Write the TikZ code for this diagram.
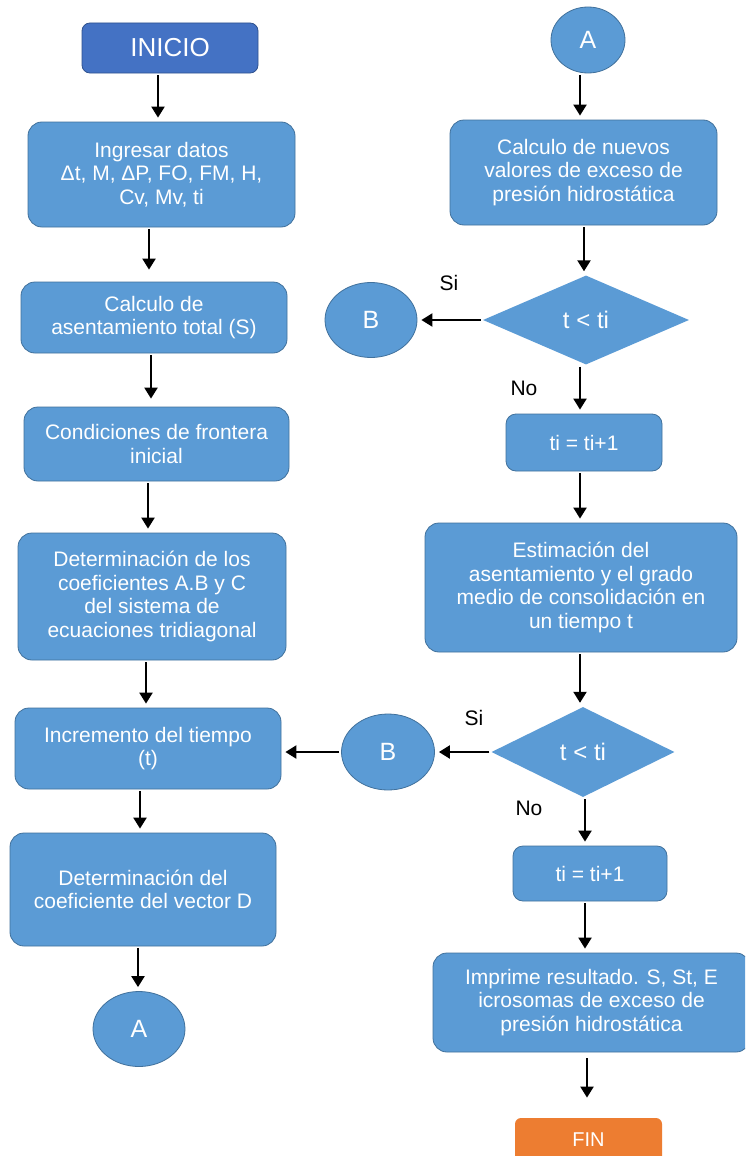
\documentclass[tikz,border=0pt]{standalone}
\usepackage{fontspec}
\setmainfont{Liberation Sans}
\usetikzlibrary{shapes.geometric,arrows.meta}
\definecolor{boxfill}{HTML}{5B9BD5}
\definecolor{boxline}{HTML}{41719C}
\definecolor{startfill}{HTML}{4472C4}
\definecolor{startline}{HTML}{2F528F}
\definecolor{endfill}{HTML}{ED7D31}
\begin{document}
\begin{tikzpicture}[x=1pt,y=-1pt,
  every node/.style={font=\fontsize{21pt}{23.5pt}\selectfont},
  box/.style={draw=boxline, line width=0.8pt, fill=boxfill, text=white, rounded corners=14pt, align=center, inner sep=0pt},
  startbox/.style={box, draw=startline, fill=startfill, rounded corners=8pt, font=\fontsize{26pt}{30pt}\selectfont},
  endbox/.style={box, draw=none, fill=endfill, rounded corners=6pt, font=\fontsize{20pt}{24pt}\selectfont},
  conn/.style={draw=boxline, line width=0.8pt, fill=boxfill, text=white, ellipse, inner sep=0pt, font=\fontsize{25pt}{28pt}\selectfont},
  decision/.style={draw=none, fill=boxfill, text=white, diamond, inner sep=0pt, font=\fontsize{24pt}{28pt}\selectfont},
  lbl/.style={text=black, inner sep=0pt},
  arr/.style={line width=2.2pt, -{Triangle[length=11pt,width=13pt]}, shorten >=4pt, shorten <=2pt}
]
\clip (0,0) rectangle (745,1156);
\fill[white] (0,0) rectangle (745,1156);

% left column
\node[startbox, minimum width=176pt, minimum height=50pt] (inicio) at (170,48) {INICIO};
\node[box, minimum width=267pt, minimum height=105pt] (ingresar) at (161.5,174.5) {Ingresar datos\\ Δt, M, ΔP, FO, FM, H,\\ Cv, Mv, ti};
\node[box, minimum width=266pt, minimum height=71pt] (calc) at (154,317.5) {Calculo de\\ asentamiento total (S)};
\node[box, minimum width=265pt, minimum height=74pt] (cond) at (156.5,444) {Condiciones de frontera\\ inicial};
\node[box, minimum width=268pt, minimum height=127pt] (det) at (152,596.5) {Determinación de los\\ coeficientes A.B y C\\ del sistema de\\ ecuaciones tridiagonal};
\node[box, minimum width=266pt, minimum height=81pt] (incr) at (148,748.5) {Incremento del tiempo\\ (t)};
\node[box, minimum width=266pt, minimum height=113pt] (detD) at (143,889.5) {Determinación del\\ coeficiente del vector D};
\node[conn, minimum width=92pt, minimum height=75pt] (A1) at (139,1029) {A};

% right column
\node[conn, minimum width=74pt, minimum height=66pt] (A2) at (588,40) {A};
\node[box, minimum width=267pt, minimum height=105pt] (calcn) at (583.5,172.5) {Calculo de nuevos\\ valores de exceso de\\ presión hidrostática};
\node[decision, minimum width=206pt, minimum height=89pt, aspect=2.3] (d1) at (586,320) {t < ti};
\node[conn, minimum width=92pt, minimum height=75pt] (B1) at (371,320) {B};
\node[box, rounded corners=10pt, minimum width=156pt, minimum height=57pt] (ti1) at (584,442.5) {ti = ti+1};
\node[box, minimum width=312pt, minimum height=129pt] (estim) at (581,587.5) {Estimación del\\ asentamiento y el grado\\ medio de consolidación en\\ un tiempo t};
\node[decision, minimum width=183pt, minimum height=90pt, aspect=2.03] (d2) at (583,752) {t < ti};
\node[conn, minimum width=93pt, minimum height=76pt] (B2) at (388,752) {B};
\node[box, rounded corners=10pt, minimum width=154pt, minimum height=55pt] (ti2) at (590,873.5) {ti = ti+1};
\node[box, minimum width=317pt, minimum height=99pt] (impr) at (591.5,1002.5) {Imprime resultado. S, St, E\\ icrosomas de exceso de\\ presión hidrostática};
\node[endbox, minimum width=147pt, minimum height=44pt] (fin) at (588.5,1140) {FIN};

% labels
\node[lbl] (si1) at (449,283) {Si};
\node[lbl] (no1) at (524,388) {No};
\node[lbl] (si2) at (474,718) {Si};
\node[lbl] (no2) at (529,808) {No};

% arrow x positions
\coordinate (x1) at (158,0);
\coordinate (x2) at (149,0);
\coordinate (x3) at (151,0);
\coordinate (x4) at (148,0);
\coordinate (x5) at (146,0);
\coordinate (x6) at (140,0);
\coordinate (x7) at (138,0);
\coordinate (x8) at (580,0);
\coordinate (x9) at (584,0);
\coordinate (x10) at (580,0);
\coordinate (x13) at (585,0);
\coordinate (x15) at (587,0);

\draw[arr] (inicio.south -| x1) -- (ingresar.north -| x1);
\draw[arr] (ingresar.south -| x2) -- ([yshift=8pt]calc.north -| x2);
\draw[arr] (calc.south -| x3) -- ([yshift=4pt]cond.north -| x3);
\draw[arr] (cond.south -| x4) -- (det.north -| x4);
\draw[arr] (det.south -| x5) -- (incr.north -| x5);
\draw[arr] (incr.south -| x6) -- (detD.north -| x6);
\draw[arr] (detD.south -| x7) -- (A1.north -| x7);

\draw[arr] (A2.south -| x8) -- (calcn.north -| x8);
\draw[arr] (calcn.south -| x9) -- (d1.north -| x9);
\draw[arr] (d1.west) -- (B1.east);
\draw[arr] (d1.south -| x10) -- (ti1.north -| x10);
\draw[arr] (ti1.south -| x10) -- (estim.north -| x10);
\draw[arr] (estim.south -| x10) -- (d2.north -| x10);
\draw[arr] (d2.west) -- (B2.east);
\draw[arr] (B2.west) -- (B2.west -| incr.east);
\draw[arr] (d2.south -| x13) -- (ti2.north -| x13);
\draw[arr] (ti2.south -| x13) -- (impr.north -| x13);
\draw[arr] ([yshift=-4pt]impr.south -| x15) -- ([yshift=16pt]fin.north -| x15);
\end{tikzpicture}
\end{document}
